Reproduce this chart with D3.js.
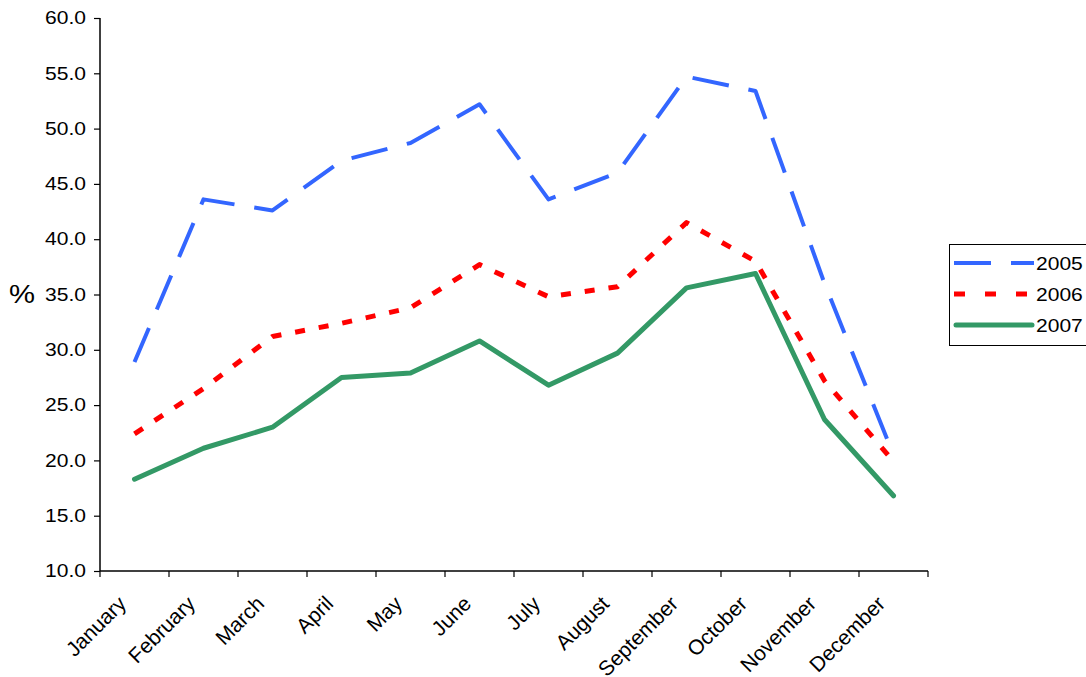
<!DOCTYPE html>
<html>
<head>
<meta charset="utf-8">
<script src="https://cdn.jsdelivr.net/npm/d3@7"></script>
<style>
body { margin: 0; background: #fff; }
text { font-family: "Liberation Sans", Arial, sans-serif; fill: #000; }
</style>
</head>
<body>
<div id="chart"></div>
<script>
var months = ["January", "February", "March", "April", "May", "June", "July",
    "August", "September", "October", "November", "December"];
var years = ["2005", "2006", "2007"];
var values2005 = [28.9, 43.6, 42.6, 47.1, 48.7, 52.2, 43.6, 46.0, 54.7, 53.4, 36.0, 20.5];
var values2006 = [22.4, 26.5, 31.2, 32.4, 33.8, 37.7, 34.8, 35.7, 41.5, 38.0, 27.2, 19.9];
var values2007 = [18.3, 21.1, 23.0, 27.5, 27.9, 30.8, 26.8, 29.7, 35.6, 36.9, 23.7, 16.8];
var yTicks = [10, 15, 20, 25, 30, 35, 40, 45, 50, 55, 60];

var series = [
    {name: years[0], values: values2005, color: "#3366ff", width: 4, dash: "37,20"},
    {name: years[1], values: values2006, color: "#ff0000", width: 5, dash: "10,14"},
    {name: years[2], values: values2007, color: "#339966", width: 5, dash: null}
];

var width = 1086, height = 677;
var plotLeft = 100, plotRight = 928, plotTop = 18, plotBottom = 571;
var stretch = "scale(1.17,1)";

var svg = d3.select("#chart").append("svg")
    .attr("width", width)
    .attr("height", height);

var x = d3.scaleBand().domain(months).range([plotLeft, plotRight]);
var y = d3.scaleLinear().domain([10, 60]).range([plotBottom, plotTop]);

// y axis
var yAxis = svg.append("g")
    .attr("transform", "translate(" + plotLeft + ",0)")
    .call(d3.axisLeft(y).tickValues(yTicks).tickFormat(d3.format(".1f")).tickSize(6).tickPadding(0));
yAxis.select(".domain").attr("stroke", "#000").attr("stroke-width", 1.5)
    .attr("d", "M0," + plotTop + "V" + plotBottom);
yAxis.selectAll(".tick line").attr("stroke", "#000").attr("stroke-width", 1.2);
yAxis.selectAll(".tick text")
    .style("font-size", "18px")
    .attr("x", null)
    .attr("transform", "translate(-14,0) " + stretch);

// x axis with ticks between categories
var xAxis = svg.append("g")
    .attr("transform", "translate(0," + plotBottom + ")");
xAxis.append("line")
    .attr("x1", plotLeft).attr("x2", plotRight)
    .attr("stroke", "#000").attr("stroke-width", 1.5);
xAxis.selectAll(".xtick")
    .data(d3.range(months.length + 1))
    .enter().append("line")
    .attr("x1", function (i) { return plotLeft + i * x.step(); })
    .attr("x2", function (i) { return plotLeft + i * x.step(); })
    .attr("y1", 0).attr("y2", 6)
    .attr("stroke", "#000").attr("stroke-width", 1.2);
xAxis.selectAll(".xlabel")
    .data(months)
    .enter().append("text")
    .attr("text-anchor", "end")
    .style("font-size", "21px")
    .attr("transform", function (d) {
        return "translate(" + (x(d) + x.bandwidth() / 2 - 7) + ",34) rotate(-45)";
    })
    .text(function (d) { return d; });

svg.append("text")
    .attr("transform", "translate(22,303) " + stretch)
    .attr("text-anchor", "middle")
    .style("font-size", "25px")
    .text("%");

// lines
var line = d3.line()
    .x(function (d, i) { return x(months[i]) + x.bandwidth() / 2; })
    .y(function (d) { return y(d); });

svg.selectAll(".series")
    .data(series)
    .enter().append("path")
    .attr("fill", "none")
    .attr("stroke", function (d) { return d.color; })
    .attr("stroke-width", function (d) { return d.width; })
    .attr("stroke-dasharray", function (d) { return d.dash; })
    .attr("stroke-linecap", function (d) { return d.dash ? "butt" : "round"; })
    .attr("stroke-linejoin", "round")
    .attr("d", function (d) { return line(d.values); });

// legend
var legend = svg.append("g");
legend.append("rect")
    .attr("x", 949.5).attr("y", 244.5)
    .attr("width", 145).attr("height", 101)
    .attr("fill", "#fff").attr("stroke", "#000").attr("stroke-width", 1);
var items = legend.selectAll(".item")
    .data(series)
    .enter().append("g")
    .attr("transform", function (d, i) { return "translate(0," + (263 + i * 31) + ")"; });
items.append("line")
    .attr("x1", function (d) { return d.dash ? 954 : 956; })
    .attr("x2", function (d) { return d.dash ? 1034 : 1032; })
    .attr("stroke", function (d) { return d.color; })
    .attr("stroke-width", function (d) { return d.width; })
    .attr("stroke-dasharray", function (d) { return d.dash === "10,14" ? "11,20" : d.dash; })
    .attr("stroke-linecap", function (d) { return d.dash ? "butt" : "round"; });
items.append("text")
    .attr("transform", "translate(1036,7) " + stretch)
    .style("font-size", "18px")
    .text(function (d) { return d.name; });
</script>
</body>
</html>
